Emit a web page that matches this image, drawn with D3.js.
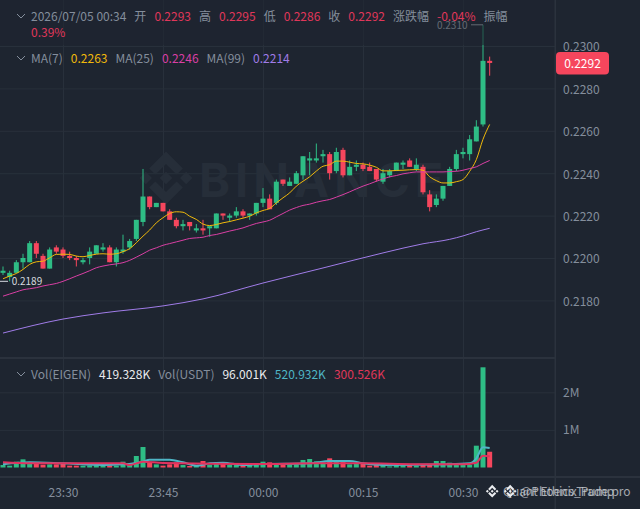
<!DOCTYPE html>
<html>
<head>
<meta charset="utf-8">
<script src="https://cdn.jsdelivr.net/npm/d3@7"></script>
<style>
  html, body { margin: 0; padding: 0; background: #1e2530; }
  svg { display: block; }
  text { font-family: "Noto Sans CJK SC", "Noto Sans", sans-serif; font-size: 12px; }
  .axis text { fill: #848e9c; }
  .axis path, .axis line { stroke: none; }
  .grid path { stroke: none; }
  .grid line { stroke: #28303b; }
</style>
</head>
<body>
<script>
// 1 minute candles, 23:21 to 00:34
const open = [.2193,.2191,.2193,.2198,.2198,.2207,.2201,.2195,.2205,.2204,.2201,.2200,.2198,.2200,.2202,.2204,.2205,.2198,.2203,.2205,.2209,.2217,.2229,.2224,.2226,.2222,.2218,.2215,.2217,.2213,.2214,.2214,.2214,.2221,.2219,.2220,.2222,.2220,.2221,.2226,.2228,.2226,.2237,.2234,.2235,.2239,.2246,.2246,.2248,.2249,.2241,.2251,.2239,.2243,.2244,.2243,.2242,.2236,.2239,.2241,.2244,.2246,.2242,.2243,.2230,.2225,.2228,.2234,.2242,.2249,.2249,.2255,.2263,.2293];
const high = [.2196,.2194,.2199,.2202,.2208,.2208,.2202,.2205,.2206,.2205,.2203,.2201,.2200,.2205,.2206,.2207,.2206,.2205,.2211,.2209,.2218,.2242,.2229,.2226,.2226,.2223,.2219,.2218,.2217,.2216,.2218,.2215,.2221,.2221,.2221,.2224,.2223,.2221,.2226,.2233,.2230,.2237,.2237,.2238,.2241,.2248,.2250,.2254,.2251,.2250,.2252,.2252,.2246,.2246,.2245,.2245,.2242,.2242,.2242,.2245,.2246,.2247,.2247,.2244,.2232,.2230,.2234,.2243,.2251,.2252,.2258,.2265,.2310,.2295];
const low = [.2192,.2189,.2193,.2195,.2198,.2200,.2195,.2195,.2202,.2200,.2199,.2196,.2197,.2197,.2202,.2203,.2198,.2196,.2202,.2204,.2208,.2215,.2223,.2224,.2222,.2218,.2214,.2213,.2213,.2212,.2211,.2210,.2214,.2218,.2217,.2219,.2219,.2218,.2220,.2224,.2223,.2225,.2234,.2234,.2235,.2237,.2239,.2245,.2245,.2237,.2240,.2238,.2239,.2241,.2241,.2241,.2236,.2235,.2238,.2241,.2242,.2243,.2241,.2230,.2222,.2224,.2227,.2234,.2241,.2247,.2246,.2255,.2262,.2286];
const close = [.2194,.2193,.2198,.2200,.2207,.2202,.2195,.2204,.2203,.2201,.2200,.2199,.2199,.2203,.2206,.2205,.2198,.2204,.2204,.2208,.2218,.2229,.2224,.2226,.2222,.2218,.2215,.2216,.2215,.2214,.2213,.2215,.2221,.2220,.2220,.2222,.2220,.2221,.2226,.2228,.2223,.2236,.2235,.2236,.2240,.2248,.2247,.2247,.2249,.2240,.2250,.2239,.2243,.2244,.2242,.2241,.2237,.2240,.2241,.2245,.2245,.2243,.2244,.2231,.2224,.2228,.2234,.2242,.2249,.2250,.2256,.2262,.2293,.2292];
const volume = [66,49,155,217,110,110,75,84,84,110,49,49,49,55,60,60,55,49,155,84,306,545,155,84,49,84,137,66,40,66,173,66,137,110,66,66,66,66,75,155,137,84,84,84,84,200,226,164,137,244,155,155,84,110,110,49,66,66,30,66,66,66,49,84,84,173,173,128,84,66,66,580,2665,419];

const ma7 = [.21902,.21915,.21927,.21946,.2197,.21982,.21985,.22001,.22017,.22018,.22017,.22009,.22006,.22012,.22018,.2202,.22018,.2202,.2203,.22044,.22072,.22103,.22132,.22166,.2219,.2221,.22218,.22216,.22197,.22182,.2216,.22153,.22158,.22166,.22172,.2218,.22188,.22197,.22213,.22224,.22234,.2226,.22284,.22307,.22339,.22362,.22383,.2241,.22433,.2244,.22457,.22457,.22452,.22446,.22444,.22438,.22428,.22411,.22411,.22413,.22414,.22416,.22417,.22414,.22383,.22365,.22354,.22354,.2236,.2237,.22409,.22464,.2256,.2263];
const ma25 = [.2182,.2183,.2184,.2185,.21855,.2186,.21868,.21874,.2188,.2189,.21902,.21915,.21927,.2194,.21954,.21962,.21968,.21972,.21978,.21989,.22004,.2202,.22037,.22048,.2206,.22068,.22076,.22084,.22092,.22095,.22098,.22106,.22111,.22119,.22127,.22134,.22142,.22153,.22163,.2217,.22178,.22194,.2221,.22226,.22238,.22248,.22254,.22263,.2227,.22276,.22287,.22299,.22312,.22326,.22339,.2235,.22362,.22373,.22383,.22389,.22397,.22402,.22406,.22406,.22406,.22406,.22406,.22408,.22409,.22414,.22422,.2243,.22446,.2246];
const ma99Idx = [0,9,15,24,30,39,48,57,63,67,69,71,73];
const ma99 = [.21646,.21712,.21741,.21774,.21807,.21882,.21953,.22024,.22067,.22088,.22104,.22124,.2214];
const volBlueIdx = [0,4,9,15,18,21,22,25,27,29,31,33,36,38,46,49,52,54,57,67,70,71,72,73];
const volBlue = [84,137,110,66,84,155,208,208,137,49,110,128,66,84,110,173,173,110,66,84,110,244,536,521];
const volRedIdx = [0,4,18,19,21,24,38,47,54,62,69,71,72,73];
const volRed = [137,110,110,66,155,120,93,110,110,84,84,128,315,301];

const priceTicks = [.23,.228,.226,.224,.222,.22,.218];
const volTicks = [1000,2000];
const timeTicks = ["23:30","23:45","00:00","00:15","00:30"];

const width = 640, height = 509;
const plotRight = 555, axisY = 477, volTop = 358;
const greenC = "#2ebd85", redC = "#f6465d", textC = "#848e9c";
const logoPath = "M38.73 53.2L60 31.93l21.28 21.28 12.37-12.38L60 7.18 26.36 40.82zM7.18 60l12.37-12.37L31.93 60 19.55 72.38zM38.73 66.8L60 88.07l21.28-21.28 12.37 12.37L60 112.82 26.36 79.18zM88.07 60l12.37-12.37L112.82 60l-12.37 12.38zM72.55 60L60 47.45 47.45 60 60 72.55z";

const svg = d3.select("body").append("svg").attr("width", width).attr("height", height);
svg.append("rect").attr("width", width).attr("height", height).attr("fill", "#1e2530");

const start = Date.UTC(2026, 6, 4, 23, 21);
const times = open.map((d, i) => new Date(start + i * 60000));
const timeAt = i => new Date(start + i * 60000);

// 23:30 sits at x=63, 00:30 at x=463
const x = d3.scaleUtc()
  .domain([new Date(Date.UTC(2026, 6, 4, 23, 30)), new Date(Date.UTC(2026, 6, 5, 0, 30))])
  .range([63, 463]);
const y = d3.scaleLinear().domain([.23, .218]).range([46, 300.4]);
const yVol = d3.scaleLinear().domain([0, 2000]).range([467.5, 392.3]);

// grid
const tickDates = timeTicks.map(t => {
  const [h, m] = t.split(":").map(Number);
  return new Date(Date.UTC(2026, 6, h > 12 ? 4 : 5, h, m));
});
svg.append("g").attr("class", "grid")
  .attr("transform", `translate(0,${axisY})`)
  .call(d3.axisBottom(x).tickValues(tickDates).tickSize(-(axisY)).tickFormat(""));
svg.append("g").attr("class", "grid")
  .attr("transform", `translate(${plotRight},0)`)
  .call(d3.axisLeft(y).tickValues(priceTicks).tickSize(plotRight).tickFormat(""));
svg.append("g").attr("class", "grid")
  .attr("transform", `translate(${plotRight},0)`)
  .call(d3.axisLeft(yVol).tickValues(volTicks).tickSize(plotRight).tickFormat(""));

// watermark
svg.append("path").attr("d", logoPath).attr("fill", "#262e39")
  .attr("transform", "translate(136,148) scale(0.5)");
svg.append("text").attr("x", 199).attr("y", 197).text("BINANCE")
  .attr("fill", "#262e39").style("font-size", "47px").style("font-weight", 700)
  .style("font-family", "Inter, sans-serif").style("letter-spacing", "5px");

// volume bars
svg.append("g").selectAll("rect").data(volume).join("rect")
  .attr("x", (d, i) => x(times[i]) - 2.5)
  .attr("width", 5)
  .attr("y", d => yVol(d))
  .attr("height", d => yVol(0) - yVol(d))
  .attr("fill", (d, i) => close[i] >= open[i] ? greenC : redC);

const volLine = d3.line().curve(d3.curveMonotoneX).x(d => x(timeAt(d[0]))).y(d => yVol(d[1]));
svg.append("path").datum(d3.zip(volBlueIdx, volBlue)).attr("d", volLine)
  .attr("fill", "none").attr("stroke", "#4fb6c6").attr("stroke-width", 2);
svg.append("path").datum(d3.zip(volRedIdx, volRed)).attr("d", volLine)
  .attr("fill", "none").attr("stroke", "#e0325f").attr("stroke-width", 2);

// candles
const candle = svg.append("g").selectAll("g").data(open).join("g")
  .attr("fill", (d, i) => close[i] >= open[i] ? greenC : redC);
candle.append("rect")
  .attr("x", (d, i) => x(times[i]) - 0.5).attr("width", 1)
  .attr("y", (d, i) => y(high[i]))
  .attr("height", (d, i) => y(low[i]) - y(high[i]));
candle.append("rect")
  .attr("x", (d, i) => x(times[i]) - 2.5).attr("width", 5)
  .attr("y", (d, i) => y(Math.max(open[i], close[i])))
  .attr("height", (d, i) => Math.max(1, Math.abs(y(open[i]) - y(close[i]))));

// moving averages
const maLine = d3.line().curve(d3.curveMonotoneX).x((d, i) => x(times[i])).y(d => y(d));
svg.append("path").datum(ma7).attr("d", maLine).attr("fill", "none").attr("stroke", "#f0b90b").attr("stroke-width", 1);
svg.append("path").datum(ma25).attr("d", maLine).attr("fill", "none").attr("stroke", "#d93fa4").attr("stroke-width", 1);
svg.append("path").datum(d3.zip(ma99Idx, ma99))
  .attr("d", d3.line().curve(d3.curveMonotoneX).x(d => x(timeAt(d[0]))).y(d => y(d[1])))
  .attr("fill", "none").attr("stroke", "#a07ce8").attr("stroke-width", 1);

// high / low markers
const hiX = x(times[72]), loX = x(times[1]);
svg.append("line").attr("x1", hiX - 12).attr("x2", hiX).attr("y1", y(.231)).attr("y2", y(.231)).attr("stroke", "#c9ced6");
svg.append("text").attr("x", hiX - 15.5).attr("y", y(.231) + 4).attr("text-anchor", "end")
  .attr("fill", "#c9ced6").style("font-size", "10px").text("0.2310");
svg.append("line").attr("x1", 0).attr("x2", 8).attr("y1", y(.2189)).attr("y2", y(.2189)).attr("stroke", "#d5d9df");
svg.append("text").attr("x", loX + 2).attr("y", y(.2189) + 4)
  .attr("fill", "#d5d9df").style("font-size", "10px").text("0.2189");

// legend backdrop dims whatever runs under the top rows
svg.append("rect").attr("width", plotRight).attr("height", 45).attr("fill", "#1e2530").attr("opacity", 0.6);

// panel borders
svg.append("rect").attr("x", 0).attr("y", volTop - 1).attr("width", plotRight).attr("height", 2).attr("fill", "#2b323d");
svg.append("rect").attr("x", 0).attr("y", axisY - 1).attr("width", width).attr("height", 2).attr("fill", "#2b323d");
svg.append("rect").attr("x", plotRight - 0.5).attr("y", 0).attr("width", 1.5).attr("height", height).attr("fill", "#2b323d");

// axes
svg.append("g").attr("class", "axis").attr("transform", `translate(${plotRight},1)`)
  .call(d3.axisRight(y).tickValues(priceTicks).tickSize(0).tickPadding(8).tickFormat(d3.format(".4f")));
svg.append("g").attr("class", "axis").attr("transform", `translate(${plotRight},0)`)
  .call(d3.axisRight(yVol).tickValues(volTicks).tickSize(0).tickPadding(8).tickFormat(d => d / 1000 + "M"));
svg.append("g").attr("class", "axis").attr("transform", `translate(0,${axisY + 11})`)
  .call(d3.axisBottom(x).tickValues(tickDates).tickSize(0).tickPadding(0).tickFormat(d3.utcFormat("%H:%M")));
svg.selectAll(".axis text").style("font-size", "12px");

// last price tag
svg.append("rect").attr("x", 556).attr("y", 52).attr("width", 53).attr("height", 22.5).attr("rx", 4).attr("fill", redC);
svg.append("text").attr("x", 582.5).attr("y", 67.5).attr("text-anchor", "middle").attr("fill", "#fff").text("0.2292");

// legends
function flow(px, py, items) {
  let cx = px;
  items.forEach(it => {
    const t = svg.append("text").attr("x", cx).attr("y", py).attr("fill", it[1]).text(it[0]);
    cx += t.node().getComputedTextLength() + 8;
  });
}
function chevron(py) {
  svg.append("path").attr("d", `M17 ${py - 2}l4 4l4 -4`).attr("fill", "none").attr("stroke", textC).attr("stroke-width", 1);
}
const rowRed = "#e0375a";
chevron(16);
flow(31, 21, [["2026/07/05 00:34", textC], ["开", textC], ["0.2293", rowRed], ["高", textC], ["0.2295", rowRed], ["低", textC], ["0.2286", rowRed], ["收", textC], ["0.2292", rowRed], ["涨跌幅", textC], ["-0.04%", rowRed], ["振幅", textC]]);
flow(31, 37, [["0.39%", rowRed]]);
chevron(58);
flow(31, 63, [["MA(7)", textC], ["0.2263", "#f0b90b"], ["MA(25)", textC], ["0.2246", "#d93fa4"], ["MA(99)", textC], ["0.2214", "#a07ce8"]]);
chevron(374);
flow(31, 379, [["Vol(EIGEN)", textC], ["419.328K", "#eaecef"], ["Vol(USDT)", textC], ["96.001K", "#eaecef"], ["520.932K", "#4fb6c6"], ["300.526K", "#e0375a"]]);

// credit marks, two overlapping lines as in the source
[[485, 503, "Quant Ethics_Pump"], [503, 520, "@PhoenixTrade.pro"]].forEach(r => {
  svg.append("path").attr("d", logoPath).attr("fill", "#eaecef")
    .attr("transform", `translate(${r[0]},484) scale(0.12)`);
  svg.append("text").attr("x", r[1]).attr("y", 496).attr("fill", "#c4c8ce").attr("opacity", 0.8).text(r[2]);
});
</script>
</body>
</html>
